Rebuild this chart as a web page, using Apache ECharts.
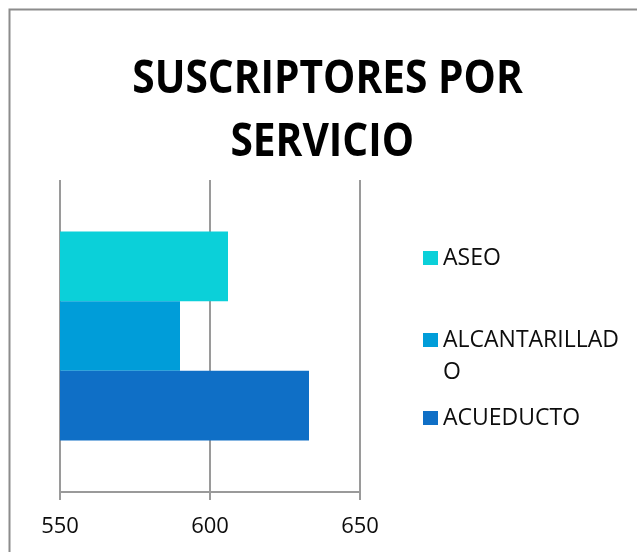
<!DOCTYPE html>
<html>
<head>
<meta charset="utf-8">
<title>Suscriptores por servicio</title>
<script src="https://cdn.jsdelivr.net/npm/echarts@6/dist/echarts.min.js"></script>
<style>
  html, body { margin: 0; padding: 0; background: #ffffff; }
  #chart { width: 637px; height: 552px; }
</style>
</head>
<body>
<div id="chart"></div>
<script>
// Subscribers per utility service
const titleText = 'SUSCRIPTORES POR\nSERVICIO ';
const categories = ['SUSCRIPTORES'];
const serviceNames = ['ASEO', 'ALCANTARILLADO', 'ACUEDUCTO'];
const aseo = [606];
const alcantarillado = [590];
const acueducto = [633];
const axisTicks = [550, 600, 650];

const serviceColors = ['#0BD0D9', '#009DD9', '#0F6FC6'];
const serviceValues = [aseo, alcantarillado, acueducto];

const labelFont = '"Open Sans", "Noto Sans", sans-serif';

const chart = echarts.init(document.getElementById('chart'), null, { renderer: 'canvas' });

const series = serviceNames.map((name, i) => ({
  name: name,
  type: 'bar',
  data: serviceValues[i],
  barGap: '0%',
  barCategoryGap: '33%',
  itemStyle: { color: serviceColors[i] },
  silent: true
}));

// one legend block per entry so each row sits where it should;
// the long name wraps, with its first line level with the swatch
const legendTops = [242, 292, 402];
const legends = serviceNames.map((name, i) => ({
  orient: 'vertical',
  left: 423,
  top: legendTops[i],
  padding: 0,
  itemWidth: 15,
  itemHeight: 14,
  icon: 'rect',
  selectedMode: false,
  data: [name],
  formatter: n => (n === 'ALCANTARILLADO' ? ' \nALCANTARILLAD\nO' : n),
  textStyle: {
    fontFamily: labelFont,
    fontSize: 23,
    color: '#0d0d0d',
    lineHeight: 32
  }
}));

chart.setOption({
  animation: false,
  legend: legends,
  grid: { left: 60, right: 277, top: 180, bottom: 60, containLabel: false },
  xAxis: {
    type: 'value',
    min: axisTicks[0],
    max: axisTicks[axisTicks.length - 1],
    interval: axisTicks[1] - axisTicks[0],
    axisLine: { show: true, lineStyle: { color: '#9a9a9a', width: 2 } },
    axisTick: { show: true, length: 8, lineStyle: { color: '#9a9a9a', width: 2 } },
    splitLine: { show: true, lineStyle: { color: '#9a9a9a', width: 2 } },
    axisLabel: {
      margin: 24,
      fontFamily: labelFont,
      fontSize: 22,
      color: '#0d0d0d'
    }
  },
  yAxis: {
    type: 'category',
    data: categories,
    axisLine: { show: false },
    axisTick: { show: false },
    axisLabel: { show: false },
    splitLine: { show: false }
  },
  graphic: [
    {
      type: 'rect',
      silent: true,
      shape: { x: 9.5, y: 9.5, width: 700, height: 600 },
      style: { fill: 'none', stroke: '#8c8c8c', lineWidth: 2 }
    },
    {
      // condensed bold heading, two lines
      type: 'text',
      silent: true,
      x: 327.5,
      y: 48,
      scaleX: 0.865,
      style: {
        text: titleText,
        fontFamily: '"Open Sans", sans-serif',
        fontWeight: 'bold',
        fontSize: 47,
        lineHeight: 63,
        fill: '#000000',
        align: 'center',
        verticalAlign: 'top'
      }
    }
  ],
  series: series
});
</script>
</body>
</html>
